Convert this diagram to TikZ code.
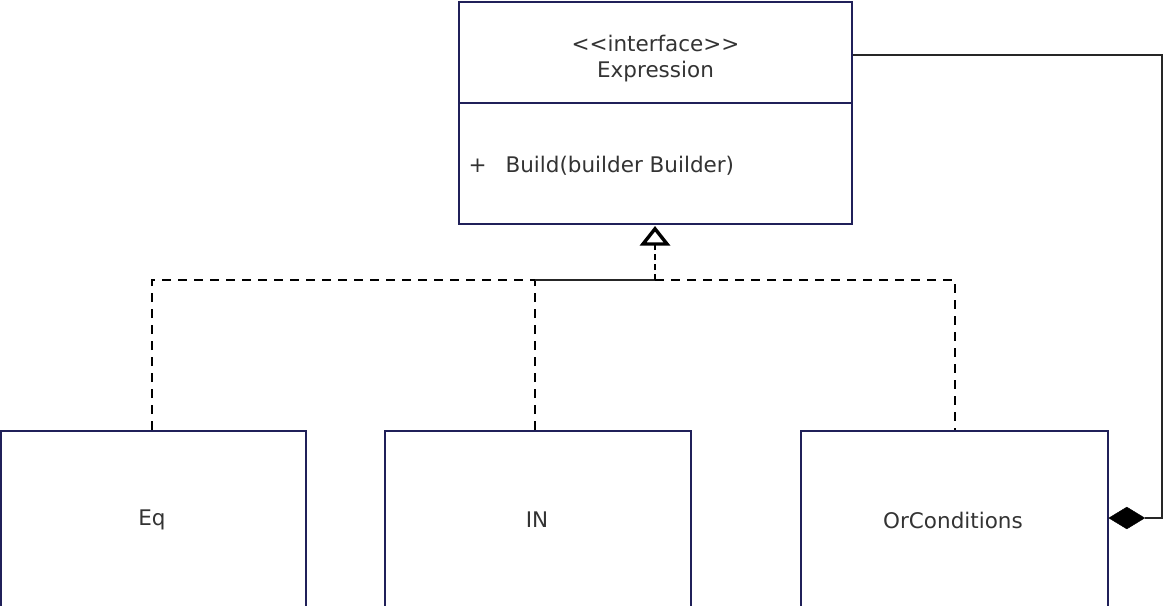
\documentclass[tikz,border=0pt]{standalone}
\usepackage{fontspec}
\setmainfont{DejaVu Sans}
\usetikzlibrary{arrows.meta,shapes.geometric}
\begin{document}
\begin{tikzpicture}[x=1pt,y=-1pt,
  box/.style={draw=black!70!blue!75!gray, line width=1.6pt},
  lbl/.style={font=\fontsize{21.5}{25}\selectfont, text=black!80},
  dsh/.style={dashed, dash pattern=on 9pt off 7pt, line width=1.5pt},
  conn/.style={line width=1.5pt, draw=black!85},
  hollow/.style={draw=black, fill=white, line width=3.4pt, line join=miter}]
\useasboundingbox (0,0) rectangle (1175,605);
% Expression
\node[box, minimum width=393pt, minimum height=222pt, inner sep=0] (expr) at (655.5,113) {};
\coordinate (ediv1) at (459,103);
\coordinate (ediv2) at (852,103);
\draw[box] (ediv1) -- (ediv2);
\node[lbl] (stereo) at (655.5,43) {{<}{<}interface{>}{>}};
\node[lbl] (ename) at (655.5,72) {Expression};
\node[lbl, anchor=west] (plus) at (465,166) {+};
\node[lbl, anchor=west] (build) at (502,166) {Build(builder Builder)};
% Children
\node[box, minimum width=305pt, minimum height=200pt, anchor=north west, inner sep=0] (eq) at (0,430) {};
\node[box, minimum width=306pt, minimum height=200pt, anchor=north west, inner sep=0] (in) at (384,430) {};
\node[box, minimum width=307pt, minimum height=200pt, anchor=north west, inner sep=0] (orc) at (800,430) {};
\node[lbl] (eqt) at (152,520) {Eq};
\node[lbl] (int) at (537,520) {IN};
\node[lbl] (orct) at (953,520) {OrConditions};
% Realization
\coordinate (j1) at (152,280);
\coordinate (j2) at (535,280);
\coordinate (j3) at (655,280);
\coordinate (j4) at (955,280);
\coordinate (eqtop) at (eq.north -| j1);
\coordinate (intop) at (in.north -| j2);
\coordinate (orctop) at (orc.north -| j4);
\coordinate (tip) at ([yshift=-4pt]expr.south -| j3);
\coordinate (tbase) at (655,244);
\coordinate (tl) at (643,244);
\coordinate (tr) at (667,244);
\draw[dsh] (eqtop) -- (j1) -- (j2);
\draw[dsh] (intop) -- (j2);
\draw[conn] (j2) -- (j3);
\draw[dsh] (j3) -- (j4) -- (orctop);
\draw[line width=1.5pt, dash pattern=on 6pt off 4pt] (j3) -- (tbase);
\draw[hollow] (tip) -- (tl) -- (tr) -- cycle;
% Composition
\coordinate (cs) at (expr.east |- 0,55);
\coordinate (c1) at (1162,55);
\coordinate (c2) at (1162,518);
\node[fill=black, draw=black, diamond, inner sep=0, minimum width=36pt, minimum height=22pt, anchor=west] (dia) at (orc.east |- c2) {};
\draw[conn] (cs) -- (c1) -- (c2) -- (dia.east);
\end{tikzpicture}
\end{document}
